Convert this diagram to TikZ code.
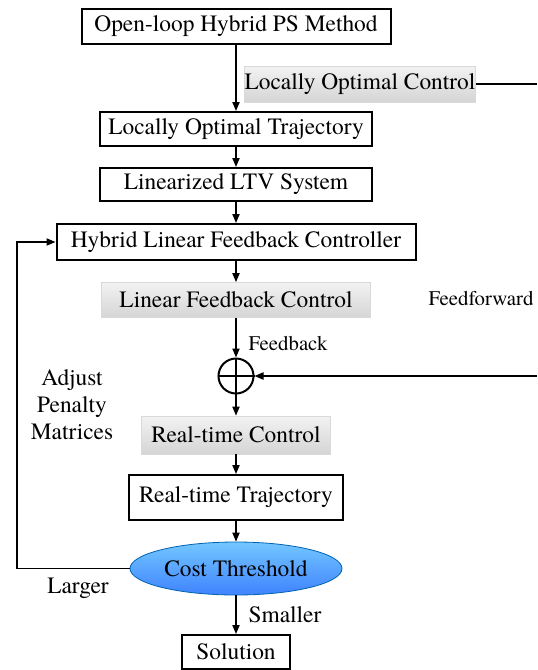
\documentclass[tikz,border=0pt]{standalone}
\usepackage{fontspec}
\setmainfont{texgyretermes}[Extension=.otf,UprightFont=*-regular]
\usetikzlibrary{arrows,arrows.meta}
\usetikzlibrary{shapes.geometric}

\begin{document}
\begin{tikzpicture}[x=0.5pt,y=-0.5pt,>={Triangle[length=4.5pt,width=3.6pt]},
  every node/.style={font=\fontsize{11.7}{13.5}\selectfont,inner sep=0pt},
  wh/.style 2 args={minimum width=#1*0.5pt,minimum height=#2*0.5pt},
  box/.style={draw,line width=1pt,fill=white},
  grey/.style={top color=gray!10,bottom color=gray!33,draw=gray!30,line width=0.4pt},
  small/.style={font=\fontsize{10.4}{12}\selectfont},
  flow/.style={->,line width=0.65pt}]
\useasboundingbox (0,0) rectangle (537,670);

\path (236,26.5) node[box,wh={309}{35}](m){Open-loop Hybrid PS Method}
      (360,84) node[grey,wh={218}{36}](loc){Locally Optimal Control}
      (236,129) node[box,wh={272}{34}](lot){Locally Optimal Trajectory}
      (236,184.5) node[box,wh={272}{33}](ltv){Linearized LTV System}
      (236,242) node[box,wh={359}{36}](hlf){Hybrid Linear Feedback Controller}
      (236,300) node[grey,wh={269}{35}](lfc){Linear Feedback Control}
      (236,376) node[circle,draw,line width=1pt,minimum size=17.5pt](sum){}
      (236,435) node[grey,wh={189}{38}](rtc){Real-time Control}
      (236,497.5) node[box,wh={214}{45}](rtt){Real-time Trajectory}
      (236,568.5) node[ellipse,top color=blue!40!cyan!55,bottom color=blue!65!cyan!75,draw=blue!45!cyan!70!black,line width=0.4pt,wh={212}{53}](ct){Cost Threshold}
      (236,652) node[box,wh={108}{34}](sol){Solution};

% labels
\path (481,299) node[small](ff){Feedforward}
      (288,343) node[small](fb){Feedback}
      (72,405) node[align=center](adj){Adjust\\Penalty\\Matrices}
      (78,588) node(lg){Larger}
      (285,615) node(sm){Smaller};

\coordinate (ffin) at (537,84);
\coordinate (fbin) at (537,376);
\coordinate (lp) at (17,568.5);

\draw[flow] (m) -- (lot);
\draw[flow] (lot) -- (ltv);
\draw[flow] (ltv) -- (hlf);
\draw[flow] (hlf) -- (lfc);
\draw[flow] (lfc) -- (sum);
\draw[flow] (sum) -- (rtc);
\draw[flow] (rtc) -- (rtt);
\draw[flow] (rtt) -- (ct);
\draw[flow] (ct) -- (sol);
\draw[line width=0.65pt] (sum.north) -- (sum.south) (sum.west) -- (sum.east);
\draw[line width=0.65pt] (loc.east) -- (ffin);
\draw[flow] (fbin) -- (sum);
\draw[flow] (ct) -- (lp) |- (hlf);
\end{tikzpicture}
\end{document}
